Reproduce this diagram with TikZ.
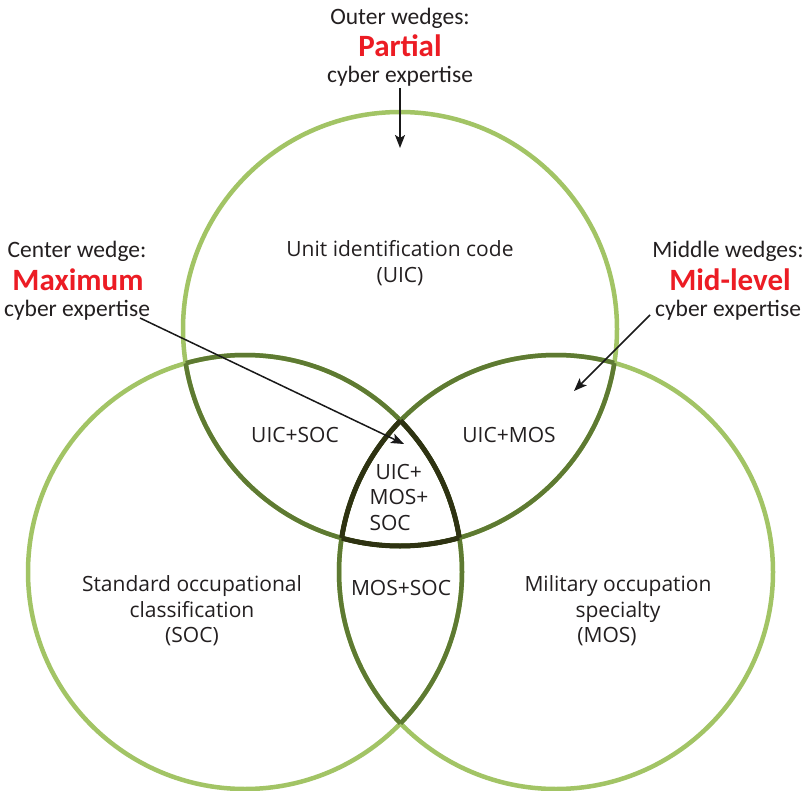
\documentclass[tikz,border=0pt]{standalone}
\usepackage{fontspec}
\setmainfont{Carlito}
\newfontfamily\regfont{Open Sans}
\usetikzlibrary{arrows.meta}
\definecolor{lightg}{HTML}{A2C465}
\definecolor{midg}{HTML}{5E7A32}
\definecolor{darkg}{HTML}{2E3212}
\definecolor{redlab}{HTML}{EC1C24}
\definecolor{txt}{HTML}{231F20}
\tikzset{
  lightring/.style={draw=lightg, line width=4.5pt},
  midring/.style={draw=midg, line width=4.5pt},
  darkring/.style={draw=darkg, line width=5pt},
  callout/.style={text=txt, inner sep=0pt, font=\fontsize{23.5}{28}\selectfont},
  hot/.style={text=redlab, inner sep=0pt, font=\fontsize{31}{34}\selectfont\bfseries},
  region/.style={text=txt, inner sep=0pt, align=center, font=\regfont\fontsize{21}{25.5}\selectfont},
  arr/.style={draw=black!90, line width=1.5pt, -{Stealth[length=13pt,width=10pt,inset=3pt]}}
}
\begin{document}
\begin{tikzpicture}[x=1pt,y=-1pt]
\useasboundingbox (0,0) rectangle (805,791);
\fill[white] (0,0) rectangle (805,791);
\coordinate (T) at (400,329);
\coordinate (L) at (245,572);
\coordinate (R) at (556,572);
% light outer arcs
\draw[lightring] (T) circle[radius=217pt];
\draw[lightring] (L) circle[radius=217pt];
\draw[lightring] (R) circle[radius=217pt];
% arcs inside one other circle
\begin{scope}
  \clip (L) circle[radius=217pt];
  \draw[midring] (T) circle[radius=217pt];
  \draw[midring] (R) circle[radius=217pt];
\end{scope}
\begin{scope}
  \clip (R) circle[radius=217pt];
  \draw[midring] (T) circle[radius=217pt];
  \draw[midring] (L) circle[radius=217pt];
\end{scope}
\begin{scope}
  \clip (T) circle[radius=217pt];
  \draw[midring] (L) circle[radius=217pt];
  \draw[midring] (R) circle[radius=217pt];
\end{scope}
% arcs bounding the centre region
\begin{scope}
  \clip (L) circle[radius=217pt];
  \clip (R) circle[radius=217pt];
  \draw[darkring] (T) circle[radius=217pt];
\end{scope}
\begin{scope}
  \clip (T) circle[radius=217pt];
  \clip (R) circle[radius=217pt];
  \draw[darkring] (L) circle[radius=217pt];
\end{scope}
\begin{scope}
  \clip (T) circle[radius=217pt];
  \clip (L) circle[radius=217pt];
  \draw[darkring] (R) circle[radius=217pt];
\end{scope}

% callouts
\node[callout] (out1) at (400,18) {Outer wedges:};
\node[hot] (out2) at (400,46) {Partial};
\node[callout] (out3) at (400,76) {cyber expertise};
\node[callout] (cen1) at (77,251) {Center wedge:};
\node[hot] (cen2) at (78,280) {Maximum};
\node[callout] (cen3) at (77,310) {cyber expertise};
\node[callout] (mid1) at (728,251) {Middle wedges:};
\node[hot] (mid2) at (730,280) {Mid-level};
\node[callout] (mid3) at (728,310) {cyber expertise};

\coordinate (a1s) at (400,88);
\coordinate (a1) at (400,148);
\coordinate (a2s) at (140,318);
\coordinate (a2) at (404,444);
\coordinate (a3s) at (650,315);
\coordinate (a3) at (574,391);
\draw[arr] (a1s) -- (a1);
\draw[arr] (a2s) -- (a2);
\draw[arr] (a3s) -- (a3);

% regions
\node[region] (uic) at (400,263) {Unit identification code\\(UIC)};
\node[region] (uicsoc) at (295,435) {UIC+SOC};
\node[region] (uicmos) at (509,435) {UIC+MOS};
\node[region, align=left] (all) at (399,497) {\hspace{6pt}UIC+\\MOS+\\SOC};
\node[region] (mossoc) at (401,588) {MOS+SOC};
\node[region] (soc) at (192,611) {Standard occupational\\classification\\(SOC)};
\node[region] (mos) at (618,611) {Military occupation\\specialty\\\hspace*{-22pt}(MOS)};
\end{tikzpicture}
\end{document}
